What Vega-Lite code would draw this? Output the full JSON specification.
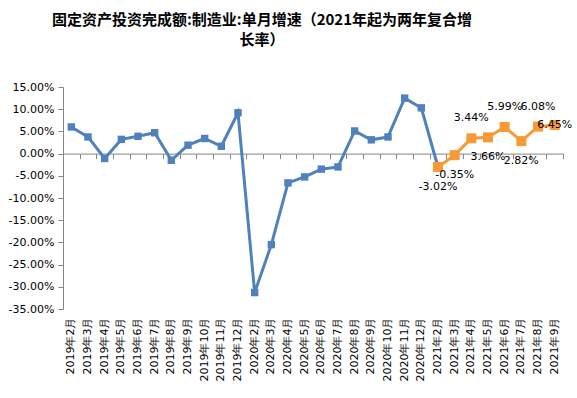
{
  "$schema": "https://vega.github.io/schema/vega-lite/v6.json",
  "width": 500,
  "height": 222,
  "autosize": "none",
  "padding": {"left": 63, "top": 87, "right": 14, "bottom": 89},
  "background": "white",
  "title": {
    "text": ["固定资产投资完成额:制造业:单月增速（2021年起为两年复合增", "长率）"],
    "font": "Noto Sans CJK SC",
    "fontSize": 15,
    "fontWeight": "bold",
    "color": "#000000",
    "anchor": "middle",
    "dx": -51,
    "offset": 33,
    "lineHeight": 20
  },
  "config": {
    "view": {"stroke": null},
    "axis": {"grid": false, "labelFont": "DejaVu Sans", "labelFontSize": 11, "labelColor": "#000000"}
  },
  "datasets": {
    "blue": [
      {"month": "2019年2月", "v": 0.060},
      {"month": "2019年3月", "v": 0.0375},
      {"month": "2019年4月", "v": -0.011},
      {"month": "2019年5月", "v": 0.032},
      {"month": "2019年6月", "v": 0.039},
      {"month": "2019年7月", "v": 0.047},
      {"month": "2019年8月", "v": -0.015},
      {"month": "2019年9月", "v": 0.019},
      {"month": "2019年10月", "v": 0.034},
      {"month": "2019年11月", "v": 0.0165},
      {"month": "2019年12月", "v": 0.092},
      {"month": "2020年2月", "v": -0.313},
      {"month": "2020年3月", "v": -0.205},
      {"month": "2020年4月", "v": -0.066},
      {"month": "2020年5月", "v": -0.0525},
      {"month": "2020年6月", "v": -0.035},
      {"month": "2020年7月", "v": -0.030},
      {"month": "2020年8月", "v": 0.051},
      {"month": "2020年9月", "v": 0.031},
      {"month": "2020年10月", "v": 0.0375},
      {"month": "2020年11月", "v": 0.125},
      {"month": "2020年12月", "v": 0.103},
      {"month": "2021年2月", "v": -0.0302}
    ],
    "orange": [
      {"month": "2021年2月", "v": -0.0302},
      {"month": "2021年3月", "v": -0.0035},
      {"month": "2021年4月", "v": 0.0344},
      {"month": "2021年5月", "v": 0.0366},
      {"month": "2021年6月", "v": 0.0599},
      {"month": "2021年7月", "v": 0.0282},
      {"month": "2021年8月", "v": 0.0608},
      {"month": "2021年9月", "v": 0.0645}
    ]
  },
  "encoding": {
    "x": {
      "field": "month",
      "type": "nominal",
      "scale": {
        "type": "band",
        "paddingInner": 0,
        "paddingOuter": 0,
        "domain": ["2019年2月","2019年3月","2019年4月","2019年5月","2019年6月","2019年7月","2019年8月","2019年9月","2019年10月","2019年11月","2019年12月","2020年2月","2020年3月","2020年4月","2020年5月","2020年6月","2020年7月","2020年8月","2020年9月","2020年10月","2020年11月","2020年12月","2021年2月","2021年3月","2021年4月","2021年5月","2021年6月","2021年7月","2021年8月","2021年9月"]
      }
    },
    "y": {
      "field": "v",
      "type": "quantitative",
      "scale": {"domain": [-0.35, 0.15], "nice": false, "zero": false},
      "axis": {
        "values": [-0.35, -0.30, -0.25, -0.20, -0.15, -0.10, -0.05, 0, 0.05, 0.10, 0.15],
        "labelExpr": "replace(format(datum.value, '.2%'), '\u2212', '-')",
        "title": null,
        "domainColor": "#868686",
        "tickColor": "#868686",
        "tickSize": 5,
        "labelPadding": 4
      }
    }
  },
  "resolve": {"axis": {"x": "independent"}},
  "layer": [
    {
      "data": {"name": "blue"},
      "mark": {"type": "line", "color": "#4F81BD", "strokeWidth": 3, "point": {"shape": "square", "filled": true, "size": 55, "color": "#4F81BD", "opacity": 1}},
      "encoding": {
        "x": {
          "field": "month",
          "type": "nominal",
          "axis": {"orient": "top", "title": null, "labels": false, "domain": true, "ticks": true, "tickBand": "extent", "offset": -66.6, "domainColor": "#868686", "tickColor": "#868686", "tickSize": -5}
        }
      }
    },
    {
      "data": {"name": "orange"},
      "mark": {"type": "line", "color": "#F79A36", "strokeWidth": 3, "point": {"shape": "square", "filled": true, "size": 100, "color": "#F79A36", "opacity": 1}},
      "encoding": {
        "x": {
          "field": "month",
          "type": "nominal",
          "axis": {"orient": "bottom", "title": null, "labelAngle": 270, "domain": false, "ticks": false, "labelPadding": 8}
        }
      }
    },
    {
      "data": {"name": "orange"},
      "transform": [{"filter": {"field": "month", "oneOf": ["2021年4月", "2021年6月", "2021年8月"]}}],
      "mark": {"type": "text", "dy": -20, "font": "DejaVu Sans", "fontSize": 11, "color": "#000000", "text": {"expr": "replace(format(datum.v, '.2%'), '\u2212', '-')"}},
      "encoding": {"x": {"field": "month", "type": "nominal", "axis": null}}
    },
    {
      "data": {"name": "orange"},
      "transform": [{"filter": {"field": "month", "oneOf": ["2021年2月", "2021年3月", "2021年5月", "2021年7月"]}}],
      "mark": {"type": "text", "dy": 20, "font": "DejaVu Sans", "fontSize": 11, "color": "#000000", "text": {"expr": "replace(format(datum.v, '.2%'), '\u2212', '-')"}},
      "encoding": {"x": {"field": "month", "type": "nominal", "axis": null}}
    },
    {
      "data": {"name": "orange"},
      "transform": [{"filter": {"field": "month", "oneOf": ["2021年9月"]}}],
      "mark": {"type": "text", "dy": 0, "font": "DejaVu Sans", "fontSize": 11, "color": "#000000", "text": {"expr": "replace(format(datum.v, '.2%'), '\u2212', '-')"}},
      "encoding": {"x": {"field": "month", "type": "nominal", "axis": null}}
    }
  ]
}
